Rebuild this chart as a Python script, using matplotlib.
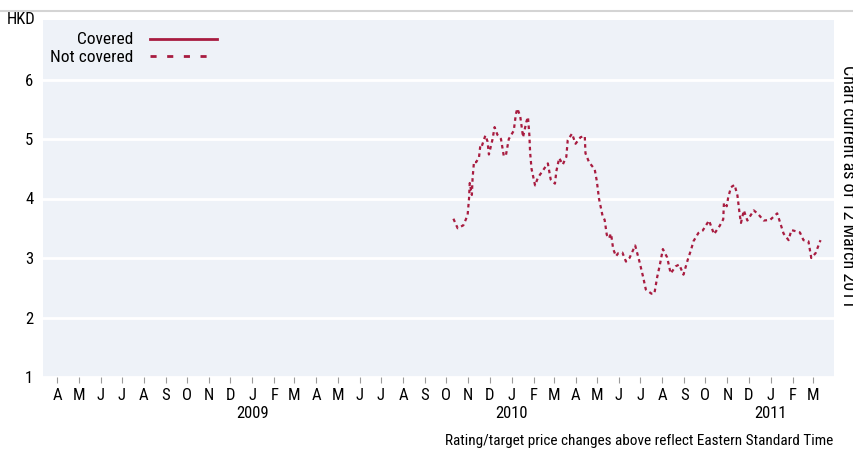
import matplotlib
matplotlib.use("Agg")
import matplotlib.pyplot as plt
from matplotlib.lines import Line2D
import pandas as pd

# Dữ liệu (giá, HKD) - chuỗi "Not covered"
dates = [
    "2009-10-11", "2009-10-17", "2009-10-25", "2009-10-31", "2009-11-02", "2009-11-03",
    "2009-11-06", "2009-11-07", "2009-11-09", "2009-11-12", "2009-11-16", "2009-11-18",
    "2009-11-20", "2009-11-25", "2009-11-28", "2009-11-30", "2009-12-05", "2009-12-08",
    "2009-12-12", "2009-12-17", "2009-12-21", "2009-12-24", "2009-12-28", "2010-01-04",
    "2010-01-07", "2010-01-09", "2010-01-13", "2010-01-16", "2010-01-17", "2010-01-22",
    "2010-01-24", "2010-01-26", "2010-01-27", "2010-01-29", "2010-02-03", "2010-02-07",
    "2010-02-14", "2010-02-21", "2010-02-25", "2010-03-03", "2010-03-05", "2010-03-09",
    "2010-03-14", "2010-03-19", "2010-03-21", "2010-03-27", "2010-04-01", "2010-04-08",
    "2010-04-14", "2010-04-15", "2010-04-20", "2010-04-28", "2010-05-01", "2010-05-04",
    "2010-05-09", "2010-05-12", "2010-05-15", "2010-05-18", "2010-05-21", "2010-05-24",
    "2010-05-28", "2010-05-31", "2010-06-06", "2010-06-11", "2010-06-16", "2010-06-24",
    "2010-06-30", "2010-07-05", "2010-07-09", "2010-07-17", "2010-07-21", "2010-07-25",
    "2010-07-29", "2010-08-02", "2010-08-08", "2010-08-13", "2010-08-20", "2010-08-25",
    "2010-08-31", "2010-09-06", "2010-09-11", "2010-09-14", "2010-09-21", "2010-09-27",
    "2010-10-06", "2010-10-13", "2010-10-21", "2010-10-26", "2010-10-27", "2010-10-31",
    "2010-11-02", "2010-11-06", "2010-11-11", "2010-11-15", "2010-11-18", "2010-11-20",
    "2010-11-24", "2010-11-29", "2010-12-08", "2010-12-14", "2010-12-22", "2010-12-31",
    "2011-01-10", "2011-01-14", "2011-01-19", "2011-01-26", "2011-01-30", "2011-02-11",
    "2011-02-16", "2011-02-23", "2011-02-27", "2011-03-05", "2011-03-12",
]
prices = [
    3.66, 3.50, 3.55, 3.72, 4.00, 4.26,
    4.06, 4.34, 4.62, 4.61, 4.69, 4.90,
    4.88, 5.06, 4.96, 4.74, 4.99, 5.20,
    5.07, 5.00, 4.71, 4.73, 5.00, 5.14,
    5.42, 5.51, 5.39, 5.13, 5.03, 5.30,
    5.37, 5.06, 4.78, 4.50, 4.22, 4.35,
    4.47, 4.59, 4.32, 4.25, 4.46, 4.68,
    4.57, 4.70, 4.98, 5.09, 4.92, 5.03,
    5.05, 4.76, 4.61, 4.49, 4.29, 4.00,
    3.71, 3.64, 3.39, 3.33, 3.41, 3.15,
    3.03, 3.08, 3.09, 2.94, 3.00, 3.21,
    2.94, 2.69, 2.47, 2.40, 2.40, 2.68,
    2.90, 3.15, 3.01, 2.74, 2.86, 2.89,
    2.72, 2.97, 3.15, 3.28, 3.42, 3.46,
    3.63, 3.40, 3.54, 3.65, 3.93, 3.87,
    4.02, 4.19, 4.23, 4.05, 3.75, 3.59,
    3.80, 3.63, 3.80, 3.74, 3.63, 3.64,
    3.75, 3.60, 3.41, 3.30, 3.47, 3.43,
    3.30, 3.28, 3.00, 3.08, 3.30,
]

month_letters = ["J", "F", "M", "A", "M", "J", "J", "A", "S", "O", "N", "D"]
y_ticks = [1, 2, 3, 4, 5, 6]

red = "#a81c40"
bg = "#eef2f8"
plt.rcParams["font.family"] = ["Roboto Condensed", "DejaVu Sans"]
fs = 12

fig = plt.figure(figsize=(8.54, 4.54), dpi=100)
ax = fig.add_axes([43 / 854, 1 - 377 / 454, 791 / 854, 357 / 454])
ax.set_facecolor(bg)

x = pd.to_datetime(dates)
ax.plot(x, prices, color=red, lw=1.6, linestyle=(0, (1.6, 1.6)))

ax.set_xlim(pd.Timestamp("2008-03-12"), pd.Timestamp("2011-03-31"))
ax.set_ylim(1, 7)

# trục x: chữ cái đầu của tháng, năm dưới tháng Giêng
ticks = pd.date_range("2008-04-01", "2011-03-01", freq="MS")
labels = []
for t in ticks:
    s = month_letters[t.month - 1]
    if t.month == 1:
        s += "\n" + str(t.year)
    labels.append(s)
ax.set_xticks(ticks)
ax.set_xticklabels(labels, fontsize=fs, linespacing=1.2, va="top")
ax.tick_params(axis="x", length=4, color="#9a9a9a", width=0.8, pad=4)

ax.set_yticks(y_ticks)
ax.set_yticklabels([str(v) for v in y_ticks], fontsize=fs)
ax.tick_params(axis="y", length=0, pad=7)
ax.grid(axis="y", color="white", lw=2)
ax.set_axisbelow(True)
for sp in ax.spines.values():
    sp.set_visible(False)

ax.text(-0.009, 1.0, "HKD", transform=ax.transAxes, ha="right", va="center", fontsize=fs)

# chú giải
ax.text(0.114, 0.944, "Covered", transform=ax.transAxes, ha="right", va="center", fontsize=12.5)
ax.text(0.114, 0.896, "Not covered", transform=ax.transAxes, ha="right", va="center", fontsize=12.5)
ax.add_line(Line2D([0.135, 0.220], [0.947, 0.947], transform=ax.transAxes, color=red, lw=2))
ax.add_line(Line2D([0.135, 0.218], [0.899, 0.899], transform=ax.transAxes, color=red, lw=2,
                   linestyle=(0, (2.2, 3.8))))

# đường kẻ xám phía trên
fig.add_artist(Line2D([0, 1], [1 - 11 / 454, 1 - 11 / 454], transform=fig.transFigure,
                      color="#d4d4d4", lw=1.5))

fig.text(839 / 854, 1 - 65 / 454, "Chart current as of 12 March 2011", rotation=270,
         ha="left", va="top", fontsize=13)
fig.text(833 / 854, 1 - 441 / 454, "Rating/target price changes above reflect Eastern Standard Time",
         ha="right", va="center", fontsize=11)

fig.savefig("out.png", dpi=100, facecolor="white")
